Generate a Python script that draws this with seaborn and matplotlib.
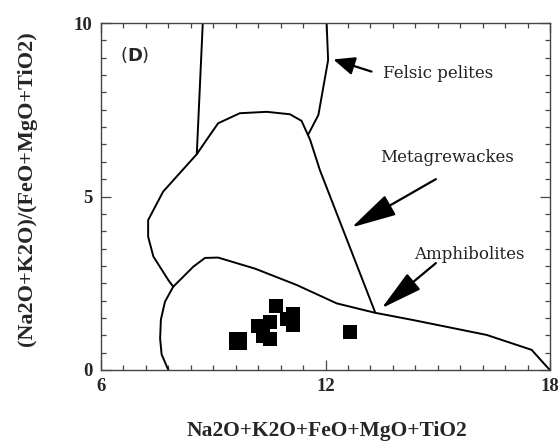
import numpy as np
import pandas as pd
import matplotlib
matplotlib.use("Agg")
import matplotlib.pyplot as plt
from matplotlib.ticker import MultipleLocator
import seaborn as sns

# Field boundaries of the discrimination diagram
felsic_left_x = [8.72, 8.56]
felsic_left_y = [10.0, 6.22]

felsic_right_x = [12.03, 12.07, 11.81, 11.53]
felsic_right_y = [10.0, 8.93, 7.35, 6.77]

metagw_x = [7.93, 7.80, 7.40, 7.26, 7.26, 7.66, 8.56, 8.82, 9.13, 9.71,
            10.43, 11.05, 11.36, 11.59, 11.85, 13.32]
metagw_y = [2.40, 2.59, 3.27, 3.84, 4.32, 5.14, 6.22, 6.63, 7.11, 7.40,
            7.44, 7.37, 7.18, 6.63, 5.76, 1.68]

amph_x = [7.80, 7.62, 7.58, 7.60, 7.71, 7.93, 8.47, 8.78, 9.13, 10.12,
          11.23, 12.30, 13.32, 14.34, 16.31, 17.51, 17.91, 18.0]
amph_y = [0.0, 0.45, 0.90, 1.45, 1.97, 2.40, 2.98, 3.23, 3.24, 2.92,
          2.45, 1.92, 1.65, 1.44, 1.01, 0.58, 0.10, 0.0]

# Sample compositions
sample_x = [9.65, 10.67, 10.20, 10.32, 10.52, 10.53, 11.12, 10.98, 11.12, 12.65]
sample_y = [0.83, 1.85, 1.27, 0.99, 0.88, 1.37, 1.61, 1.47, 1.30, 1.10]

x_ticks = [6, 12, 18]
y_ticks = [0, 5, 10]

sns.set_theme(style="ticks")
plt.rcParams["font.family"] = ["Liberation Serif", "DejaVu Serif"]

fig = plt.figure(figsize=(5.58, 4.41), dpi=100)
ax = fig.add_axes([101 / 558, 1 - 370 / 441, 449 / 558, 347 / 441])

for bx, by in [(felsic_left_x, felsic_left_y), (felsic_right_x, felsic_right_y),
               (metagw_x, metagw_y), (amph_x, amph_y)]:
    sns.lineplot(x=bx, y=by, sort=False, estimator=None, color="black",
                 linewidth=1.4, ax=ax)

sns.scatterplot(x=sample_x[:1], y=sample_y[:1], marker="s", s=180,
                color="black", linewidth=0, ax=ax, zorder=5)
sns.scatterplot(x=sample_x[1:], y=sample_y[1:], marker="s", s=105,
                color="black", linewidth=0, ax=ax, zorder=5)

ax.set_xlim(6, 18)
ax.set_ylim(0, 10)
ax.set_xticks(x_ticks)
ax.set_yticks(y_ticks)
ax.xaxis.set_minor_locator(MultipleLocator(0.6))
ax.yaxis.set_minor_locator(MultipleLocator(0.5))
ax.tick_params(which="both", direction="in", top=True, right=True,
               color="#444444", width=0.9)
ax.tick_params(which="major", length=7, labelsize=13.5, pad=6)
ax.tick_params(which="minor", length=3.5)
for lab in ax.get_xticklabels() + ax.get_yticklabels():
    lab.set_fontweight("bold")
for sp in ax.spines.values():
    sp.set_color("#444444")
    sp.set_linewidth(1.0)

ax.set_xlabel("Na2O+K2O+FeO+MgO+TiO2", fontsize=15.5, fontweight="bold")
ax.set_ylabel("(Na2O+K2O)/(FeO+MgO+TiO2)", fontsize=16, fontweight="bold")
ax.xaxis.set_label_coords(0.502, -0.148)
ax.yaxis.set_label_coords(-0.143, 0.523)

# Panel letter
ax.text(6.51, 9.08, r"($\mathbf{D}$)", fontsize=13, family="DejaVu Sans",
        ha="left", va="center")

# Field labels with arrows
field_labels = ["Felsic pelites", "Metagrewackes", "Amphibolites"]
label_pos = [(15.01, 8.55), (15.26, 6.12), (15.85, 3.34)]
arrow_tail = [(13.23, 8.60), (14.95, 5.50), (14.95, 3.08)]
arrow_tip = [(12.21, 8.95), (12.70, 4.11), (13.50, 1.78)]
head = [(0.65, 0.28), (1.4, 0.35), (1.3, 0.32)]
for name, pos, tail, tip, (hl, hw) in zip(field_labels, label_pos,
                                          arrow_tail, arrow_tip, head):
    ax.text(pos[0], pos[1], name, fontsize=12, family="DejaVu Serif",
            ha="center", va="center", color="#222222")
    ax.annotate("", xy=tip, xytext=tail,
                arrowprops=dict(arrowstyle=f"-|>,head_length={hl},head_width={hw}",
                                mutation_scale=20, color="black", lw=1.6,
                                shrinkA=0, shrinkB=0))

fig.savefig("out.png", dpi=100)
